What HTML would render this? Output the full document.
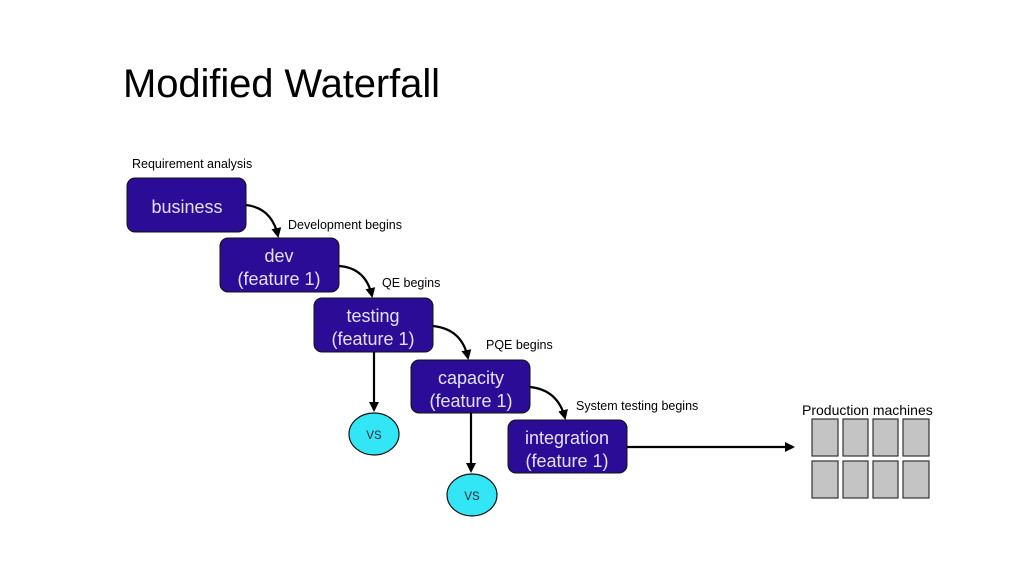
<!DOCTYPE html>
<html><head><meta charset="utf-8"><style>
html,body{margin:0;padding:0;background:#fff;}
svg{display:block;font-family:"Liberation Sans",sans-serif;}
</style></head><body>
<svg width="1024" height="576" viewBox="0 0 1024 576" xmlns="http://www.w3.org/2000/svg">
<defs>
<marker id="ah" markerWidth="10" markerHeight="10" refX="8" refY="5" orient="auto" markerUnits="userSpaceOnUse">
<path d="M0,0 L10,5 L0,10 z" fill="#000"/>
</marker>
</defs>
<text x="123" y="97" font-size="40" textLength="317" fill="#000">Modified Waterfall</text>
<text x="132" y="168" font-size="12.5" fill="#000">Requirement analysis</text>
<text x="288" y="229" font-size="12.5" fill="#000">Development begins</text>
<text x="382" y="287" font-size="12.5" fill="#000">QE begins</text>
<text x="486" y="349" font-size="12.5" fill="#000">PQE begins</text>
<text x="576" y="410" font-size="12.5" fill="#000">System testing begins</text>
<text x="802" y="415" font-size="14" fill="#000">Production machines</text>

<g fill="none" stroke="#000" stroke-width="2.2">
<path d="M246,205 Q272,208 278,236" marker-end="url(#ah)"/>
<path d="M339,266 Q366,268 372,296" marker-end="url(#ah)"/>
<path d="M433,326 Q462,329 468,358" marker-end="url(#ah)"/>
<path d="M530,387 Q558,390 565,418" marker-end="url(#ah)"/>
<path d="M374,352 L374,410" marker-end="url(#ah)"/>
<path d="M471,413 L471,471" marker-end="url(#ah)"/>
<path d="M627,447 L793,447" marker-end="url(#ah)"/>
</g>

<g fill="#2a0c96" stroke="#111" stroke-width="1">
<rect x="127" y="178" width="119" height="54" rx="8"/>
<rect x="220" y="238" width="119" height="54" rx="8"/>
<rect x="314" y="298" width="119" height="54" rx="8"/>
<rect x="411" y="360" width="119" height="53" rx="8"/>
<rect x="508" y="420" width="119" height="53" rx="8"/>
</g>
<g fill="#e6e0ff" font-size="18" text-anchor="middle">
<text x="187" y="213">business</text>
<text x="279" y="262">dev</text>
<text x="279" y="285">(feature 1)</text>
<text x="373" y="322">testing</text>
<text x="373" y="345">(feature 1)</text>
<text x="471" y="384">capacity</text>
<text x="471" y="407">(feature 1)</text>
<text x="567" y="444">integration</text>
<text x="567" y="467">(feature 1)</text>
</g>

<g fill="#33e6f5" stroke="#111" stroke-width="1.2">
<ellipse cx="374" cy="434" rx="25" ry="21"/>
<ellipse cx="472" cy="495" rx="25" ry="21"/>
</g>
<g font-family="Liberation Mono,monospace" font-size="13" fill="#334" text-anchor="middle">
<text x="374" y="439">VS</text>
<text x="472" y="500">VS</text>
</g>

<g fill="#c4c4c4" stroke="#333" stroke-width="1.2">
<rect x="812" y="419" width="26" height="37"/>
<rect x="843" y="419" width="25" height="37"/>
<rect x="873" y="419" width="25" height="37"/>
<rect x="903" y="419" width="26" height="37"/>
<rect x="812" y="461" width="26" height="37"/>
<rect x="843" y="461" width="25" height="37"/>
<rect x="873" y="461" width="25" height="37"/>
<rect x="903" y="461" width="26" height="37"/>
</g>
</svg>
</body></html>
